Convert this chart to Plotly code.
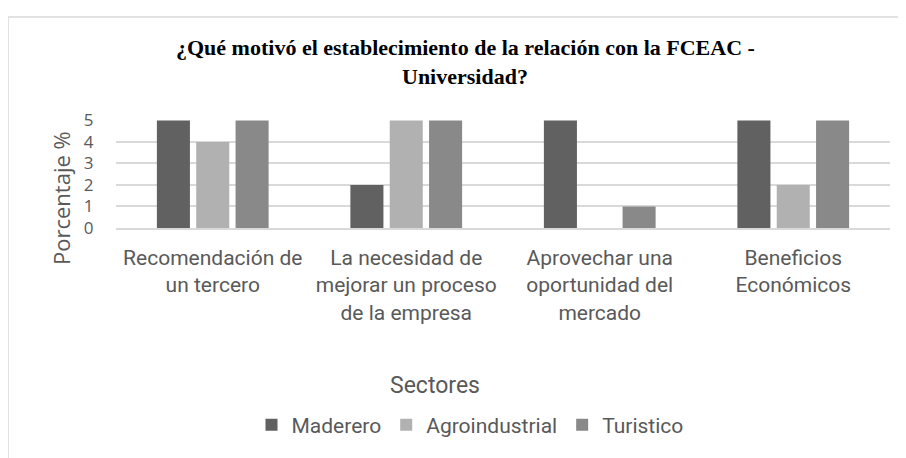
import plotly.graph_objects as go

categories = ["Recomendación de<br>un tercero",
              "La necesidad de<br>mejorar un proceso<br>de la empresa",
              "Aprovechar una<br>oportunidad del<br>mercado",
              "Beneficios<br>Económicos"]
maderero = [5, 2, 5, 5]
agroindustrial = [4, 5, 0, 2]
turistico = [5, 5, 1, 5]
series_names = ["Maderero", "Agroindustrial", "Turistico"]
title_lines = ["¿Qué motivó el establecimiento de la relación con la FCEAC -", "Universidad?"]
colors = ["#616161", "#b1b1b1", "#898989"]

W, H = 906, 458
OFF = 8  # page body margin in the browser
# plot area in page pixels: x 116..890, y 120..228
ml = 116 - OFF
mt = 120 - OFF
mr = W - (890 - OFF)
mb = H - (228 - OFF)
pw, ph = W - ml - mr, H - mt - mb

def px_x(x):
    return (x - OFF - ml) / pw

def px_y(y):
    return (H - mb - (y - OFF)) / ph

fig = go.Figure()
for name, vals, c in zip(series_names, [maderero, agroindustrial, turistico], colors):
    fig.add_trace(go.Bar(x=categories, y=vals, name=name, marker_color=c,
                         marker_line_width=0))

sans = "Roboto, sans-serif"
grey = "#595959"

fig.update_layout(
    width=W, height=H,
    margin=dict(l=ml, r=mr, t=mt, b=mb, autoexpand=False),
    paper_bgcolor="white", plot_bgcolor="white",
    barmode="group", bargap=0.39, bargroupgap=0.16,
    font=dict(family=sans, color=grey),
    showlegend=True,
    legend=dict(orientation="h", x=px_x(470), xanchor="center", y=px_y(425), yanchor="middle",
                font=dict(family=sans, size=21, color=grey), traceorder="normal",
                itemwidth=30, tracegroupgap=0),
)
for line, yy in zip(title_lines, [48, 76]):
    fig.add_annotation(text="<b>" + line + "</b>", xref="paper", yref="paper",
                       x=px_x(465), y=px_y(yy), xanchor="center", yanchor="middle",
                       showarrow=False,
                       font=dict(family="Liberation Serif, Times New Roman, serif", size=22, color="black"))
fig.add_annotation(text="Porcentaje %", xref="paper", yref="paper", x=px_x(61), y=px_y(198),
                   xanchor="center", yanchor="middle", textangle=-90, showarrow=False,
                   font=dict(family="Open Sans, sans-serif", size=22, color=grey))
fig.add_annotation(text="Sectores", xref="paper", yref="paper", x=px_x(435), y=px_y(385),
                   xanchor="center", yanchor="middle", showarrow=False,
                   font=dict(family=sans, size=23, color=grey))

fig.update_yaxes(range=[0, 5.02], dtick=1, showgrid=True, gridcolor="#d9d9d9", gridwidth=1.5,
                 zeroline=False, showline=False, ticks="outside", ticklen=18, tickcolor="rgba(0,0,0,0)",
                 tickfont=dict(family="Open Sans, sans-serif", size=17, color=grey))
fig.update_xaxes(showline=True, linecolor="#d9d9d9", linewidth=1.5, ticks="outside", ticklen=10,
                 tickcolor="rgba(0,0,0,0)",
                 tickfont=dict(family=sans, size=21, color=grey))

# outer chart border
fig.add_shape(type="rect", xref="paper", yref="paper",
              x0=px_x(8), x1=px_x(W + 10), y0=px_y(H + 10), y1=px_y(17),
              line=dict(color="#d9d9d9", width=1.5), fillcolor="rgba(0,0,0,0)", layer="below")

fig.write_html("out.html")
